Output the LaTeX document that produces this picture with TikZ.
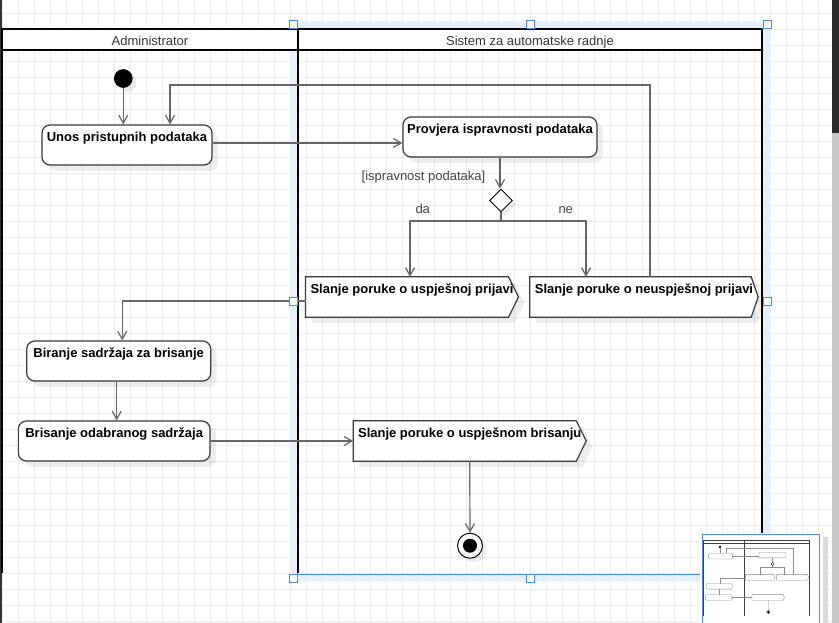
\documentclass[tikz,border=0pt]{standalone}
\usepackage{fontspec}
\setmainfont{Liberation Sans}
\usetikzlibrary{arrows.meta,shapes.geometric,shadows}

\definecolor{gridc}{HTML}{EBEBEB}
\definecolor{connc}{HTML}{666666}
\definecolor{boxc}{HTML}{3A3A3A}
\definecolor{selband}{HTML}{E7EFFC}
\definecolor{selblue}{HTML}{4A8AF0}
\definecolor{txtc}{HTML}{333333}
\definecolor{labc}{HTML}{444444}
\definecolor{stripc}{HTML}{333333}
\definecolor{scrolld}{HTML}{2B2B2B}
\definecolor{scrolll}{HTML}{C8C8C8}

\newif\ifmini
\newcommand\T[1]{\ifmini\phantom{#1}\else#1\fi}
\newcommand\sigpath[3]{([#3]#1.north west) -- ([#3,xshift=-#2]#1.north east) -- ([#3]#1.east) -- ([#3,xshift=-#2]#1.south east) -- ([#3]#1.south west) -- cycle}
\newcommand\sigshape[2]{%
  \ifmini\else\fill[shadowf] \sigpath{#1}{#2}{shift={(6pt,-6pt)}};\fi
  \filldraw[sigline] \sigpath{#1}{#2}{xshift=0pt};}

\tikzset{
  lane/.style={draw=black, line width=2pt},
  hdr/.style={anchor=base, inner sep=0pt, font=\fontsize{13}{15}\selectfont, text=txtc},
  dshadow/.style={drop shadow={shadow xshift=6pt, shadow yshift=-6pt, fill=black, opacity=0.07}},
  sshadow/.style={drop shadow={shadow xshift=4pt, shadow yshift=-4pt, fill=black, opacity=0.07}},
  box/.style={rectangle, rounded corners=8pt, draw=boxc, line width=1.2pt, fill=white,
    minimum height=40pt, inner sep=0pt, text height=16.5pt, text depth=23.5pt,
    font=\fontsize{13}{15}\selectfont\bfseries, text=black, dshadow},
  sig/.style={rectangle, inner sep=0pt, minimum height=40pt},
  sigline/.style={draw=boxc, line width=1.2pt, fill=white, line join=miter},
  shadowf/.style={fill=black, opacity=0.07},
  sigtxt/.style={inner sep=0pt, text height=16.5pt, text depth=23.5pt,
    font=\fontsize{13}{15}\selectfont\bfseries, text=black},
  lab/.style={inner sep=0pt, font=\fontsize{13}{15}\selectfont, text=labc},
  startc/.style={circle, fill=black, minimum size=18.7pt, inner sep=0pt, sshadow},
  dia/.style={diamond, draw=black, line width=0.9pt, fill=white, minimum size=23pt, inner sep=0pt, aspect=1, sshadow},
  endo/.style={circle, draw=black, line width=1pt, fill=white, minimum size=25pt, inner sep=0pt, sshadow},
  endi/.style={circle, fill=black, minimum size=14pt, inner sep=0pt},
  conn/.style={draw=connc, line width=1.2pt, -{Straight Barb[length=8pt,width=9pt]}},
  plainconn/.style={draw=connc, line width=1.2pt},
  handle/.style={rectangle, draw=selblue, fill=white, line width=0.8pt, minimum size=8pt, inner sep=0pt},
  gridl/.style={draw=gridc, line width=1pt},
}

\newcommand\diagram{%
  \fill[white] (1.5,29) rectangle (762,50);
  \draw[lane] (1.5,29) -- (762,29) (1.5,50) -- (762,50)
    (1.5,29) -- (1.5,572.7) (298,29) -- (298,572.7) (762,29) -- (762,572.7);
  \node[hdr] (h1) at (150,45.3) {\T{Administrator}};
  \node[hdr] (h2) at (530,45.3) {\T{Sistem za automatske radnje}};
  \node[startc] (start) at (123.3,78.5) {};
  \node[box, minimum width=170pt] (unos) at (127,145) {\T{Unos pristupnih podataka}};
  \node[box, minimum width=194pt] (prov) at (500,137) {\T{Provjera ispravnosti podataka}};
  \node[dia] (dia) at (501,200.5) {};
  \node[lab, anchor=base east] (cond) at (485.5,180.5) {\T{[ispravnost podataka]}};
  \node[lab, anchor=base west] (da) at (415.3,214) {\T{da}};
  \node[lab, anchor=base west] (ne) at (558.3,214) {\T{ne}};
  \node[sig, minimum width=212.6pt] (usp) at (412,297) {};
  \sigshape{usp}{10pt}
  \node[sigtxt] (usptxt) at (usp) {\T{Slanje poruke o uspješnoj prijavi}};
  \node[sig, minimum width=228pt] (neusp) at (644,297) {};
  \sigshape{neusp}{7pt}
  \node[sigtxt] (neusptxt) at (neusp) {\T{Slanje poruke o neuspješnoj prijavi}};
  \node[box, minimum width=184pt] (bir) at (118.7,361) {\T{Biranje sadržaja za brisanje}};
  \node[box, minimum width=191.7pt] (bris) at (114.2,441) {\T{Brisanje odabranog sadržaja}};
  \node[sig, minimum width=232.7pt] (brj) at (469.7,441) {};
  \sigshape{brj}{10pt}
  \node[sigtxt] (brjtxt) at (brj) {\T{Slanje poruke o uspješnom brisanju}};
  \node[endo] (end) at (470,545.7) {};
  \node[endi] (endin) at (end) {};
  \coordinate (loopc) at (170,85);
  \coordinate (br) at (501,221);
  % connectors
  \draw[conn] (start.south) -- (start.south |- unos.north);
  \draw[conn] ([xshift=6pt]neusp.north) |- (loopc) -- (loopc |- unos.north);
  \draw[conn] ([yshift=2pt]unos.east) -- ([yshift=2pt]unos.east -| prov.west);
  \draw[conn] (prov.south) -- (prov.south |- dia.north);
  \draw[plainconn] (dia.south) -- (br);
  \draw[conn] (br) -| ([xshift=-2pt]usp.north);
  \draw[conn] (br) -| ([xshift=-58pt]neusp.north);
  \draw[conn] ([yshift=-4pt]usp.west) -| ([xshift=3.5pt]bir.north);
  \draw[conn] ([xshift=-2pt]bir.south) -- ([xshift=-2pt]bir.south |- bris.north);
  \draw[conn] (bris.east) -- (bris.east -| brj.west);
  \draw[conn] (brj.south) -- (end.north);
}

\begin{document}
\begin{tikzpicture}[x=1pt, y=-1pt]
  \useasboundingbox (0,0) rectangle (839,623);
  \fill[white] (0,0) rectangle (839,623);
  % grid
  \foreach \gx in {2.3,18.3,...,834} {\draw[gridl] (\gx,0) -- (\gx,623);}
  \foreach \gy in {13.5,29.5,...,622} {\draw[gridl] (0,\gy) -- (839,\gy);}
  % left window strip
  \fill[stripc] (0,0) rectangle (2.2,623);
  % selection band
  \fill[selband, even odd rule] (289.5,21) rectangle (770.5,581) (297.5,28.5) rectangle (762,574);
  \draw[selblue, line width=1pt] (297.5,28.5) rectangle (762,574);
  % diagram
  \diagram
  % selection handles
  \node[handle] (hd1) at (293.5,24.5) {};
  \node[handle] (hd2) at (530.5,24.5) {};
  \node[handle] (hd3) at (767,24.5) {};
  \node[handle] (hd4) at (293.3,301.3) {};
  \node[handle] (hd5) at (767.5,301.7) {};
  \node[handle] (hd6) at (293.3,578) {};
  \node[handle] (hd7) at (530.5,578) {};
  \node[handle] (hd8) at (767,578) {};
  % minimap
  \fill[black!14] (705,537) rectangle (828,623);
  \fill[white] (700,532.5) rectangle (822.5,623);
  \begin{scope}[shift={(702.8,536)}, scale=0.1394, transform shape, name prefix=m-,
      lane/.style={draw=black!75, line width=0.5pt},
      dshadow/.style={}, sshadow/.style={},
      box/.append style={line width=0.35pt, draw=black!45, rounded corners=1pt},
      sigline/.style={draw=black!45, line width=0.35pt, fill=white},
      conn/.style={draw=black!45, line width=0.35pt},
      plainconn/.style={draw=black!45, line width=0.35pt},
      dia/.append style={line width=0.35pt},
      endo/.append style={line width=0.35pt}]
    \minitrue
    \diagram
  \end{scope}
  \draw[selblue, line width=1.5pt] (702.5,534.5) rectangle (819.5,640);
  % scrollbar
  \fill[scrolld] (831.5,0) rectangle (839,133);
  \fill[scrolll] (831.5,133) rectangle (839,623);
\end{tikzpicture}
\end{document}
